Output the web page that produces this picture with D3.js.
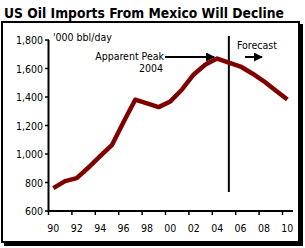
<!DOCTYPE html>
<html>
<head>
<meta charset="utf-8">
<script src="https://cdn.jsdelivr.net/npm/d3@7"></script>
<style>
body { margin: 0; background: #fff; }
text { font-family: "DejaVu Sans Condensed", "DejaVu Sans", sans-serif; fill: #000; }
</style>
</head>
<body>
<div id="main_div"></div>
<script>
var years = [1990, 1991, 1992, 1993, 1994, 1995, 1996, 1997, 1998, 1999, 2000,
             2001, 2002, 2003, 2004, 2005, 2006, 2007, 2008, 2009, 2010];
var imports = [761, 810, 831, 905, 985, 1062, 1225, 1381, 1355, 1329, 1369,
               1453, 1558, 1628, 1670, 1642, 1614, 1565, 1510, 1446, 1383];
var y_ticks = [600, 800, 1000, 1200, 1400, 1600, 1800];
var tick_years = [1990, 1992, 1994, 1996, 1998, 2000, 2002, 2004, 2006, 2008, 2010];
var peak_year = 2004;
var forecast_year = 2005;

var svg = d3.select("#main_div").append("svg").attr("width", 305).attr("height", 248);

// frame with shadow
svg.append("rect").attr("x", 4).attr("y", 24).attr("width", 299).attr("height", 222).attr("fill", "#000");
svg.append("rect").attr("x", 2).attr("y", 22).attr("width", 297).attr("height", 220)
    .attr("fill", "#fff").attr("stroke", "#000").attr("stroke-width", 2);

svg.append("text").attr("x", 4).attr("y", 17.5)
    .attr("font-size", 14).attr("font-weight", "bold")
    .attr("textLength", 280).attr("lengthAdjust", "spacingAndGlyphs")
    .text("US Oil Imports From Mexico Will Decline");

var x_scale = d3.scaleBand().domain(years).range([47.5, 293.2]);
var y_scale = d3.scaleLinear().domain([600, 1800]).range([211, 40]);
var cx = function(yr) { return x_scale(yr) + x_scale.bandwidth() / 2; };

// y axis
var g_y = svg.append("g");
g_y.append("line").attr("x1", 48.5).attr("x2", 48.5).attr("y1", y_scale(1800)).attr("y2", y_scale(600) + 1)
    .attr("stroke", "#000").attr("stroke-width", 2);
g_y.selectAll(".yt").data(y_ticks).enter().append("line")
    .attr("x1", 45).attr("x2", 49).attr("y1", function(d) { return y_scale(d); }).attr("y2", function(d) { return y_scale(d); })
    .attr("stroke", "#000").attr("stroke-width", 1.5);
g_y.selectAll(".yl").data(y_ticks).enter().append("text")
    .attr("x", 43).attr("y", function(d) { return y_scale(d) + 4; })
    .attr("text-anchor", "end").attr("font-size", 10.5)
    .text(function(d) { return d3.format(",")(d); });

// x axis
var g_x = svg.append("g");
g_x.append("line").attr("x1", 47.5).attr("x2", 293).attr("y1", y_scale(600)).attr("y2", y_scale(600))
    .attr("stroke", "#000").attr("stroke-width", 2);
g_x.selectAll(".xt").data(tick_years).enter().append("line")
    .attr("x1", function(d) { return x_scale(d) + 1; }).attr("x2", function(d) { return x_scale(d) + 1; })
    .attr("y1", y_scale(600)).attr("y2", y_scale(600) + 4)
    .attr("stroke", "#000").attr("stroke-width", 1.5);
g_x.selectAll(".xl").data(tick_years).enter().append("text")
    .attr("x", function(d) { return cx(d); }).attr("y", 232)
    .attr("text-anchor", "middle").attr("font-size", 10.5)
    .text(function(d) { return String(d).slice(2); });

svg.append("text").attr("x", 53).attr("y", 41).attr("font-size", 10.5).text("'000 bbl/day");

// forecast divider
svg.append("line").attr("x1", cx(forecast_year)).attr("x2", cx(forecast_year)).attr("y1", 36).attr("y2", 192)
    .attr("stroke", "#000").attr("stroke-width", 2);

// data line
var line = d3.line().x(function(d, i) { return cx(years[i]); }).y(function(d) { return y_scale(d); });
svg.append("path").datum(imports).attr("d", line)
    .attr("fill", "none").attr("stroke", "#800000").attr("stroke-width", 4.5).attr("stroke-linejoin", "round");

// annotations
svg.append("defs").append("marker").attr("id", "ah").attr("viewBox", "0 0 10 10")
    .attr("refX", 9).attr("refY", 5).attr("markerWidth", 4.5).attr("markerHeight", 4.5)
    .attr("markerUnits", "strokeWidth").attr("orient", "auto")
    .append("path").attr("d", "M0,0 L10,5 L0,10 Z").attr("fill", "#000");

svg.append("text").attr("x", 164).attr("y", 60).attr("text-anchor", "end").attr("font-size", 10.5).text("Apparent Peak");
svg.append("text").attr("x", 163).attr("y", 72).attr("text-anchor", "end").attr("font-size", 10.5).text("2004");
svg.append("line").attr("x1", 165).attr("x2", cx(peak_year) - 3).attr("y1", 57).attr("y2", 57)
    .attr("stroke", "#000").attr("stroke-width", 2).attr("marker-end", "url(#ah)");

svg.append("text").attr("x", 237).attr("y", 49).attr("font-size", 10.5).text("Forecast");
svg.append("line").attr("x1", 245).attr("x2", 262).attr("y1", 57).attr("y2", 57)
    .attr("stroke", "#000").attr("stroke-width", 2).attr("marker-end", "url(#ah)");
</script>
</body>
</html>
